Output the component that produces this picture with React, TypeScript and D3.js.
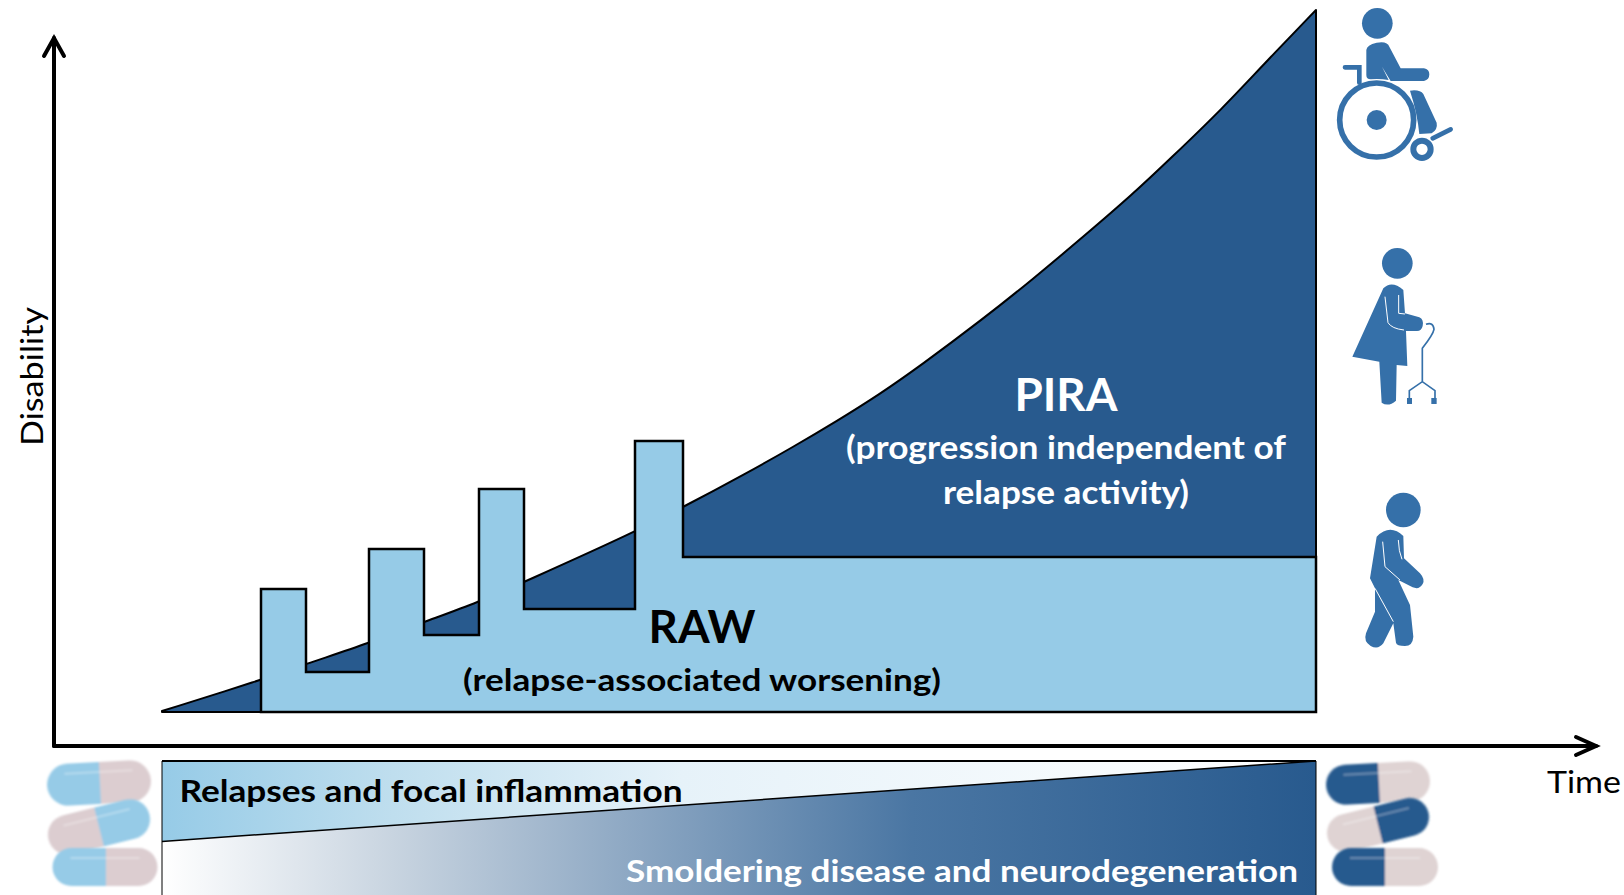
import * as d3 from "d3";

// values (1 unit = 1px of the original figure)
const curveTime = [108, 207, 252, 315, 370, 425, 470, 581, 629, 693, 739, 783, 826, 866, 929, 979, 1029, 1079, 1116, 1169, 1209, 1262];
const curveDisability = [34, 65, 81, 102, 123, 143, 163, 213, 238, 272, 298, 324, 351, 379, 426, 466, 508, 551, 586, 637, 680, 735];

const relapseStart = [207, 315, 425, 581];
const relapseEnd = [252, 370, 470, 629];
const relapsePeak = [156, 196, 256, 304];
const relapseResidual = [73, 110, 136, 188];
const baseDisability = 33;
const endTime = 1262;

const inflammationShare = [0.6, 0];

const DARK = "#285a8e";
const LIGHT = "#96cbe7";
const ICON = "#3570a9";
const PINK = "#dccdd0";
const FONT = "Lato, 'Open Sans', sans-serif";

const x = d3.scaleLinear().domain([0, 1542]).range([54, 1596]);
const y = d3.scaleLinear().domain([0, 709]).range([745, 36]);
const bandY = d3.scaleLinear().domain([0, 1]).range([761, 895]);

const curvePoints: [number, number][] = curveTime.map((t, i) => [t, curveDisability[i]]);
const curveLine = d3
  .line<[number, number]>()
  .x((d) => x(d[0]))
  .y((d) => y(d[1]))
  .curve(d3.curveBasis);

const straight = d3
  .line<[number, number]>()
  .x((d) => x(d[0]))
  .y((d) => y(d[1]));

// PIRA area = curve closed along the baseline
const piraPath = curveLine(curvePoints) + `L${x(endTime)},${y(baseDisability)}L${x(curveTime[0])},${y(baseDisability)}Z`;

// RAW area = staircase of relapses
const rawPoints: [number, number][] = [[relapseStart[0], baseDisability]];
relapseStart.forEach((s, i) => {
  if (i > 0) rawPoints.push([s, relapseResidual[i - 1]]);
  rawPoints.push([s, relapsePeak[i]], [relapseEnd[i], relapsePeak[i]], [relapseEnd[i], relapseResidual[i]]);
});
rawPoints.push([endTime, relapseResidual[3]], [endTime, baseDisability]);
const rawPath = straight(rawPoints) + "Z";

const bandLeft = x(108);
const bandRight = x(endTime);
const bandSplit = `${bandLeft},${bandY(inflammationShare[0])} ${bandRight},${bandY(inflammationShare[1])}`;

function capsule(cx: number, cy: number, len: number, h: number, angle: number, split: number, left: string, right: string) {
  const r = h / 2;
  const a = -len / 2 + r;
  const b = len / 2 - r;
  return (
    <g transform={`translate(${cx},${cy}) rotate(${angle})`} filter="url(#soft)">
      <path d={`M${split},${-r}L${a},${-r}A${r},${r} 0 0 0 ${a},${r}L${split},${r}Z`} fill={left} />
      <path d={`M${split},${-r}L${b},${-r}A${r},${r} 0 0 1 ${b},${r}L${split},${r}Z`} fill={right} />
      <line x1={-len / 2 + 18} x2={len / 2 - 18} y1={-r + 10} y2={-r + 10} stroke="#fff" strokeOpacity={0.3} strokeWidth={2} />
    </g>
  );
}

const label = (
  s: string,
  cx: number,
  by: number,
  w: number,
  size: number,
  fill: string,
  weight: number = 700
) => (
  <text
    x={cx}
    y={by}
    textAnchor="middle"
    fontFamily={FONT}
    fontSize={size}
    fontWeight={weight}
    fill={fill}
    textLength={w}
    lengthAdjust="spacingAndGlyphs"
  >
    {s}
  </text>
);

export default function App() {
  return (
    <svg width={1624} height={895} style={{ position: "absolute", left: 0, top: 0, display: "block", background: "#fff" }}>
      <defs>
        <linearGradient id="inflam" gradientUnits="userSpaceOnUse" x1={bandLeft} x2={bandRight} y1={0} y2={0}>
          <stop offset="0" stopColor={LIGHT} />
          <stop offset="0.2" stopColor="#bfdeee" />
          <stop offset="0.45" stopColor="#e6f2f9" />
          <stop offset="1" stopColor="#fff" />
        </linearGradient>
        <linearGradient id="smolder" gradientUnits="userSpaceOnUse" x1={bandLeft} x2={bandRight} y1={0} y2={0}>
          <stop offset="0" stopColor="#fff" />
          <stop offset="0.2" stopColor="#c8d4e0" />
          <stop offset="0.4" stopColor="#8fa9c4" />
          <stop offset="0.65" stopColor="#4a76a3" />
          <stop offset="1" stopColor={DARK} />
        </linearGradient>
        <filter id="soft" x="-10%" y="-20%" width="120%" height="140%">
          <feGaussianBlur stdDeviation="0.8" />
        </filter>
      </defs>

      {/* areas */}
      <path d={piraPath} fill={DARK} stroke="#000" strokeWidth={2} strokeLinejoin="round" />
      <path d={rawPath} fill={LIGHT} stroke="#000" strokeWidth={2.5} strokeLinejoin="miter" />

      {/* axes */}
      <g stroke="#000" strokeWidth={4} fill="none" strokeLinecap="round">
        <path d={`M${x(0)},${y(-1)}L${x(0)},${y(707)}`} />
        <path d={`M${x(0) - 10},${y(707) + 18}L${x(0)},${y(707)}L${x(0) + 10},${y(707) + 18}`} />
        <path d={`M${x(0)},${y(-1)}L${x(1542)},${y(-1)}`} />
        <path d={`M${x(1542) - 20},${y(-1) - 9}L${x(1542)},${y(-1)}L${x(1542) - 20},${y(-1) + 9}`} />
      </g>
      <text
        transform="translate(43,446) rotate(-90)"
        fontFamily={FONT}
        fontSize={31}
        fill="#000"
        textLength={139}
        lengthAdjust="spacingAndGlyphs"
      >
        Disability
      </text>
      {label("Time", 1584, 793, 74, 31, "#000", 400)}

      {/* area labels */}
      {label("PIRA", 1066, 411, 103, 46, "#fff")}
      {label("(progression independent of", 1066, 459, 440, 33, "#fff")}
      {label("relapse activity)", 1066, 504, 246, 33, "#fff")}
      {label("RAW", 702, 643, 107, 46, "#000")}
      {label("(relapse-associated worsening)", 702, 691, 478, 31, "#000")}

      {/* bottom band */}
      <polygon points={`${bandLeft},${bandY(0)} ${bandRight},${bandY(0)} ${bandLeft},${bandY(inflammationShare[0])}`} fill="url(#inflam)" />
      <polygon points={`${bandSplit} ${bandRight},${bandY(1)} ${bandLeft},${bandY(1)}`} fill="url(#smolder)" />
      <polyline points={bandSplit} fill="none" stroke="#000" strokeWidth={1.5} />
      <line x1={bandLeft} x2={bandRight} y1={bandY(0)} y2={bandY(0)} stroke="#000" strokeWidth={2} />
      <line x1={bandLeft} x2={bandLeft} y1={bandY(0)} y2={bandY(1)} stroke="#000" strokeWidth={1} />
      <line x1={bandRight} x2={bandRight} y1={bandY(0)} y2={bandY(1)} stroke="#000" strokeWidth={1} />
      {label("Relapses and focal inflammation", 431, 802, 503, 31, "#000")}
      {label("Smoldering disease and neurodegeneration", 962, 882, 672, 31, "#fff")}

      {/* pills */}
      {capsule(99, 783, 104, 42, -3, 1, LIGHT, PINK)}
      {capsule(99, 827, 104, 40, -14, 0, PINK, LIGHT)}
      {capsule(105, 867, 105, 38, 0, 1, LIGHT, PINK)}
      {capsule(1378, 783, 104, 40, -3, 1, DARK, "#dfd3d3")}
      {capsule(1378, 825, 104, 38, -14, 0, "#dfd3d3", DARK)}
      {capsule(1385, 867, 106, 38, 0, 0, DARK, "#dfd3d3")}

      {/* wheelchair */}
      <g transform="translate(1300,0) scale(0.3333)" fill={ICON} stroke="none">
        <circle cx={232} cy={70} r={46} />
        <path d="M199,150Q200,135 230,128Q262,122 268,140L302,205L372,205Q388,208 388,223Q388,240 372,243L272,243L246,200L266,240Q240,236 212,238Q199,238 199,225Z" />
        <path d="M330,272Q360,268 370,282L410,368Q414,388 395,400L358,402Q352,340 330,272Z" />
        <circle cx={230} cy={360} r={111} fill="none" stroke={ICON} strokeWidth={17} />
        <circle cx={230} cy={360} r={30} />
        <circle cx={366} cy={448} r={26} fill="none" stroke={ICON} strokeWidth={18} />
        <path d="M398,415L452,388M178,248L178,202L135,202" fill="none" stroke={ICON} strokeWidth={14} strokeLinecap="round" />
      </g>

      {/* person with cane */}
      <g transform="translate(1320,230) scale(0.3333)" fill={ICON} stroke="none">
        <circle cx={232} cy={100} r={46} />
        <path d="M190,175Q215,150 250,180L255,250L298,262Q312,268 308,288Q304,305 288,303L258,303L262,408L230,405L228,512Q205,532 185,518L178,395L97,380Z" />
        <path d="M195,200L204,278Q215,296 252,300M236,195L236,250L255,252" fill="none" stroke="#fff" strokeWidth={3} />
        <path d="M318,283Q340,275 342,298Q340,312 307,355L307,455M268,508L268,482L307,455L345,482L345,508" fill="none" stroke={ICON} strokeWidth={5} />
        <rect x={261} y={504} width={15} height={18} />
        <rect x={334} y={504} width={16} height={18} />
      </g>

      {/* walking person */}
      <g transform="translate(1340,480) scale(0.3333)" fill={ICON} stroke="none">
        <circle cx={190} cy={90} r={52} />
        <path d="M110,170Q150,130 190,168L192,235L240,280Q256,298 248,312Q238,330 218,322L175,300L210,375L220,470Q218,498 195,498Q170,498 168,488L160,430L130,490Q115,510 92,498Q70,485 78,460L105,395L105,325L90,295Z" />
        <path d="M128,185L135,260L180,300M175,180Q176,215 186,238M105,325L160,425" fill="none" stroke="#fff" strokeWidth={3} />
      </g>
    </svg>
  );
}
